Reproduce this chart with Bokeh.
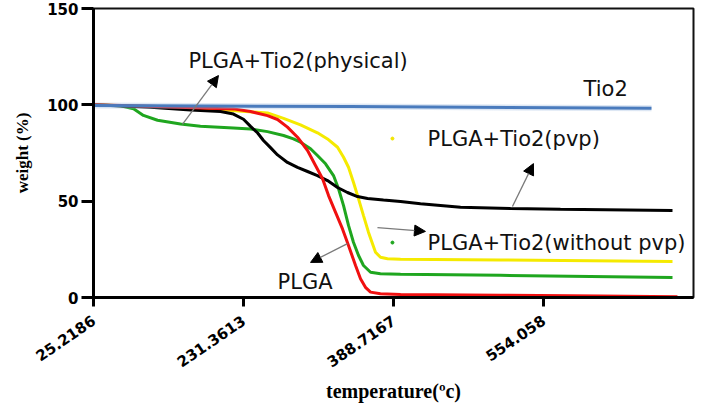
from bokeh.plotting import figure
from bokeh.models import Range1d, Arrow, NormalHead, Label
from bokeh.embed import file_html
from bokeh.resources import INLINE

# x positions are in tick-spacing units: tick i sits at x = i
tick_pos = [0, 1, 2, 3]
tick_labels = ["25.2186", "231.3613", "388.7167", "554.058"]

# TGA curves: weight (%) against position on the temperature scale
tio2_x = [0.0, 1.713, 3.72]
tio2_y = [99.7, 99.1, 98.2]

black_x = [0.0, 0.38, 0.647, 0.847, 0.933, 1.0, 1.047, 1.093, 1.133, 1.18, 1.227,
           1.293, 1.36, 1.427, 1.493, 1.56, 1.627, 1.693, 1.76, 1.827, 1.933,
           2.047, 2.18, 2.447, 2.78, 3.113, 3.86]
black_y = [100, 98.8, 97.3, 96.5, 95.2, 92.5, 88.8, 85.5, 81.5, 77.8, 74.0,
           70.1, 67.5, 65.4, 63.3, 60.7, 57.1, 54.5, 52.4, 51.4, 50.6,
           49.8, 48.6, 46.9, 46.2, 45.8, 45.2]

red_x = [0.0, 0.38, 0.713, 0.933, 1.047, 1.16, 1.227, 1.293, 1.36, 1.427, 1.48,
         1.527, 1.567, 1.613, 1.66, 1.7, 1.747, 1.78, 1.813, 1.847, 1.913,
         2.047, 2.713, 3.38, 3.893]
red_y = [100, 99.3, 98.3, 97.9, 96.5, 94.4, 92.4, 88.4, 83.2, 76.3, 68.5,
         61.6, 52.9, 44.3, 35.6, 27.0, 16.6, 9.7, 5.3, 2.8, 1.9,
         1.6, 1.2, 0.8, 0.4]

green_x = [0.0, 0.18, 0.267, 0.333, 0.427, 0.58, 0.713, 0.933, 1.047, 1.16, 1.267,
           1.333, 1.38, 1.447, 1.493, 1.547, 1.6, 1.633, 1.667, 1.7, 1.733,
           1.767, 1.8, 1.847, 1.913, 2.047, 2.713, 3.86]
green_y = [100, 99.5, 98, 94.5, 92, 90, 88.9, 88.0, 87.5, 86.1, 84.1,
           82.3, 80.6, 77.2, 73.7, 69.4, 63.3, 56.6, 47.7, 37.4, 28.7,
           21.8, 16.6, 13.1, 12.3, 12.1, 11.5, 10.4]

yellow_x = [0.0, 0.713, 1.16, 1.267, 1.38, 1.493, 1.56, 1.627, 1.667, 1.7, 1.733,
            1.767, 1.8, 1.833, 1.86, 1.88, 1.913, 1.96, 2.047, 2.713, 3.86]
yellow_y = [100, 98.2, 95.8, 93.0, 89.6, 85.5, 82.3, 78.0, 72.8, 67.6, 59.8,
            51.2, 42.5, 33.9, 27.9, 23.5, 20.9, 20.1, 19.9, 19.5, 18.7]

# annotation texts: (text, x, y)
notes = [
    ("PLGA+Tio2(physical)", 0.633, 123.0),
    ("Tio2", 3.267, 108.0),
    ("PLGA+Tio2(pvp)", 2.227, 82.5),
    ("PLGA+Tio2(without pvp)", 2.227, 28.3),
    ("PLGA", 1.227, 7.8),
]
# arrows: (x_start, y_start, x_end, y_end)
arrows = [
    (0.593, 89.8, 0.833, 115.2),
    (2.793, 47.2, 2.933, 69.5),
    (1.893, 36.3, 2.213, 34.3),
    (1.693, 28.0, 1.447, 18.2),
]
marker_x = [1.993, 1.993]
marker_y = [82.5, 28.5]
marker_colors = ["#f2e600", "#1fa61f"]

p = figure(width=701, height=404, output_backend="svg", toolbar_location=None,
           x_range=Range1d(0, 4), y_range=Range1d(0, 150),
           min_border_left=93, min_border_right=8, min_border_top=8,
           min_border_bottom=107)
p.background_fill_color = "white"
p.border_fill_color = "white"
p.xgrid.visible = False
p.ygrid.visible = False
p.outline_line_color = "#111111"
p.outline_line_width = 2

# axes
for ax in (p.xaxis[0], p.yaxis[0]):
    ax.axis_line_width = 3
    ax.axis_line_color = "black"
    ax.major_tick_line_width = 3
    ax.major_tick_line_color = "black"
    ax.major_tick_in = 0
    ax.minor_tick_line_color = None
    ax.major_label_text_font = "DejaVu Sans"
    ax.major_label_text_font_style = "bold"
    ax.major_label_text_color = "black"
    ax.axis_label_text_font = "Liberation Serif"
    ax.axis_label_text_font_style = "bold"
    ax.axis_label_text_color = "black"

p.yaxis.ticker = [0, 50, 100, 150]
p.yaxis.major_tick_out = 12
p.yaxis.major_label_standoff = 3
p.yaxis.major_label_text_font_size = "15px"
p.yaxis.axis_label = "weight (%)"
p.yaxis.axis_label_text_font_size = "17px"
p.yaxis.axis_label_standoff = 12

p.xaxis.ticker = tick_pos
p.xaxis.major_label_overrides = {t: s for t, s in zip(tick_pos, tick_labels)}
p.xaxis.major_tick_out = 9
p.xaxis.major_label_standoff = 12
p.xaxis.major_label_text_font_size = "15px"
p.xaxis.major_label_orientation = 0.6
p.xaxis.axis_label = "temperature(\u00bac)"
p.xaxis.axis_label_text_font_size = "20px"
p.xaxis.axis_label_standoff = 4

# curves
p.line(yellow_x, yellow_y, line_color="#f5ea00", line_width=3)
p.line(green_x, green_y, line_color="#1fa61f", line_width=3)
p.line(black_x, black_y, line_color="black", line_width=3)
p.line(red_x, red_y, line_color="#f01010", line_width=3)
p.line(tio2_x, tio2_y, line_color="#9fbbe0", line_width=6, line_alpha=0.35)
p.line(tio2_x, tio2_y, line_color="#4a7bbd", line_width=3)

p.scatter(marker_x, marker_y, size=3, color=marker_colors)

for xs, ys, xe, ye in arrows:
    p.add_layout(Arrow(x_start=xs, y_start=ys, x_end=xe, y_end=ye,
                       line_color="#7a7a7a", line_width=1.3,
                       end=NormalHead(size=11, fill_color="black",
                                      line_color="black", line_width=1)))

for txt, tx, ty in notes:
    p.add_layout(Label(x=tx, y=ty, text=txt, text_font="DejaVu Sans",
                       text_font_size="21px", text_align="left",
                       text_baseline="middle", text_color="#111111"))

open("out.html", "w").write(file_html(p, INLINE))
